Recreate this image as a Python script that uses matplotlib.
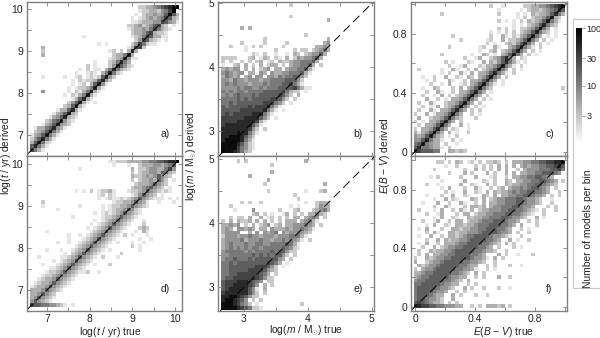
import matplotlib
matplotlib.use('Agg')
import matplotlib.pyplot as plt
from matplotlib.colors import LogNorm
from matplotlib.cm import ScalarMappable
from matplotlib.patches import Rectangle
from matplotlib.ticker import MultipleLocator
import numpy as np

plt.rcParams['font.family'] = ['Liberation Sans', 'DejaVu Sans']
plt.rcParams['mathtext.fontset'] = 'custom'
plt.rcParams['mathtext.rm'] = 'Liberation Sans'
plt.rcParams['mathtext.it'] = 'Liberation Sans:italic'

# shade level per bin (. = empty, 9 = darkest), top row first
panel_a = [
    ".............................22334567899",
    ".............................1223324579",
    "............................1.2334346963",
    "...........................1.12343457632",
    "...........................1123334476431",
    "..........................22342346732.1",
    "..........................123343575321",
    "...........................2334673221",
    "..............1............1235763311",
    "............................2476321.1",
    "..................1.1......2475211",
    "...3......................13772",
    "...2.................12.2.383",
    "...3..................233583",
    ".....................12348411",
    ".................1...235853",
    "...............2.1...2486421",
    ".............1.2.11.3585321",
    "............1..121.358521",
    "...1.....1..12.12126842",
    "...........1.212236842",
    "...........1.12.36841",
    "..........1.12235831",
    "...4......1.2135831",
    ".........1.2135831",
    "...........136831",
    "..........246831.1",
    ".........236831",
    ".......1336831",
    "......1346832",
    ".....13468321",
    "....23568421",
    "...13468432",
    ".133568431",
    ".23468531",
    "13468531",
    "2468531",
    "368521",
    "68531",
    "7531",
]

panel_b = [
    "..................2",
    "",
    "",
    "..................2",
    "............................3",
    "",
    ".....3.3",
    "",
    "......................2",
    "...........2................3",
    ".....2.....2.....2.........34",
    "..2...1.2.2.....2........3343",
    "......1.......2....2.22.23453",
    "........21.2..1..1.32.234463",
    "2222...23.132.21.3.24344563",
    "2.2..2.2.23.12.32234455563",
    "1..23.3.2.3.233.2.3445563.2",
    "34344.3.3.234.33.34455631",
    "454344.33.43.43344555631",
    "35434.34.44.44354556642",
    "4435443444344555566642",
    "4545444344454555667531",
    "444454554454555666675311",
    "545455455556666675322.1",
    "4545655565666667642.3",
    "555565656666677642.2",
    "55656666666777542.1",
    "6566666767778531",
    "666667777778531.1",
    "67677777888531",
    "7777778888642.1",
    "777788888731",
    "78888888641",
    "8888888742.2",
    "8888988531",
    "889998642",
    "899998531",
    "999986421",
    "999975421",
    "99987532",
]

panel_c = [
    "....................2..1.....22334456789",
    "......................1.....1.2332345686",
    ".......2..............2....1.1.323346853",
    "...........................1.2.23346832",
    "......................2.1.1.2.323468531",
    "..........................1.1.23468532",
    "......................2.2.1.22346853.1",
    "....................1.1.2.2.23468532.1",
    "..........2.........2..31.21346853.1.1",
    "............2......12..3.22346853.2.1",
    "...................2.1..23246853.2.1",
    ".........2.......12..31..3468531.2",
    ".................1..23.2346853.2.1",
    ".......2.......1..32.1.346853.2.1",
    ".............2..13..2346853.21",
    "........2.1...21..3.32468531.1",
    ".........2..13...2133468531.2",
    ".2.....1..31..2.3.2346853.2.1",
    ".......1.2..31.3.33468531.2",
    "..1..2..3..21.32.346853.2",
    "...1.2...31..2.3346853.1",
    "....2..1.3..12.3468531.1",
    "..1..32...2.3.3468532..................2",
    "...2..31..2.3346853.1",
    "..2..1.3.2.2346853.2",
    "...3..2.1.3346853.2.1",
    ".2..31..23346853.2",
    "..2.1.3.2346853.2.1",
    ".2..31.3346853.2.2",
    "2..3.13346853..2.1",
    ".3..233468532...2",
    "2.1.3346853.2",
    ".2.3346853..3.1",
    "2.3346853.21..1",
    "31346853.3.1..2",
    "43468532.1.2",
    "44685331..2.1",
    "5685433.2..1",
    "68554331.2",
    "8766655..33232",
]

panel_d = [
    ".....................1122233334455667889",
    "......................1...1..2333443456",
    ".............1.............3.2234433574",
    "...........................2.2334436532",
    "...........................32234346432",
    "...........................2.23343642.1",
    "............................233346432",
    "...........................233456432.1",
    "............1.1.2.12231...122346432121",
    "..................12.21....1246432.1",
    "..................1.1211212346432111.1.1",
    "...2..................1223346431..1...1",
    "...1.........1.....1.12233464321",
    ".......1...........1.123346421",
    ".................1.12123464321",
    "...........1.......1223464321",
    ".................1.123464321..1",
    "................1.123464321...2",
    "...............1.123464321...232",
    "....1...........123464321...1.31",
    "..........1..1.123464321.2.1...1",
    "..........1...123464321......1..1",
    ".......1..1..123464321.1...1..1",
    "............123464321......2.1",
    "....1...1..123464321.1.......1",
    ".........1.23464321.....2",
    "..1.....1123464321.2...1",
    "......1.123464321",
    "...1...123464321.1...2",
    ".....1123464321",
    "....122346432112..1",
    "...1223464321",
    "..1233464321",
    ".1233464321",
    "1233464321",
    "333464321",
    "3346432",
    "3464321",
    "464321",
    "7665544321.1",
]

panel_e = [
    "....2.2...............3",
    ".............2",
    "",
    ".............3",
    ".......3",
    "............3",
    "...........2...............3",
    "",
    "............2.........1...23",
    "...................2",
    "....................2",
    ".....2.2..2...........1..2332",
    "..2...............1.1....2433",
    "...1....4......2...23...23453",
    "........23.2.1..13.2.2.33532",
    "..2.22.3..3.12.2.2.33.3454.2",
    "2.3.3223.3.3.2.2.333.34531",
    "33434.2.3.234.23.33444543.2",
    "343.44343.33.433343445431",
    "34444..3.4.4345.43445432",
    "24443445443444344455531",
    "3444453444544344545431.2",
    "345444544554455556531",
    "345454545545555565421",
    "45555545455556566422",
    "445555556565656642.2",
    "45565556566666643.2",
    "5565666666667653.1",
    "556666666777642.1",
    "556666677776432",
    "5566777777653.2",
    "56677777876422",
    "67778887654.22",
    "6778888764.3.2",
    "6788888641.3",
    "7888888642.2",
    "8899876422",
    "8998764.2.2",
    "99987542.1...........2",
    "99998765221",
]

panel_f = [
    "......22.2.32.12.2.2232.2.33344556677889",
    "........1..2....2.2.2.3.3.3.343445566786",
    ".....2.......2..3.2.2.3.3..2.34445556675",
    ".........2...3.2...3.2..3.3.33445566654",
    "....1.2.....2...3...12..2.33445566543",
    ".......1.....3....21.2..32.33445566543.2",
    "...2..1.....3..21..3.2..32334455665432",
    ".......1.3...2..31..2.23.34454566543.2",
    "........2.1..3..21.3.323345455665543..2",
    "...1...2..3..21...32.3.334455665443.2.2",
    ".....1..3.21...32.3.23445556654432..1",
    "..1...3..2..31..2.3.33445556654432..2",
    ".....2..31...2.3323.344555665443...2.2",
    ".2...1.3..2.31.3.2334445566554321.2..2",
    "...2..13...2.33.2334455566554321..2",
    ".....1.3..21..3233445556654432..3.1",
    "..2..13..2.33.23345556665443..2.2",
    "...1.3..21.3323345556665543.3...2",
    ".1.3...2..3323344556665543..2.1",
    "...2.31..33233444566665443.2..2",
    ".1..3..2.33234556666544321..2",
    "...2..3.323344566665543..3.1..2",
    ".1.3..2.333455666655432.3.2",
    "..2..3.23445566665543.2...2.1",
    ".2..323344566666554332..2",
    ".2.3.33445566665543...3.2..1...2",
    "2..32344556666654431.3.2",
    "3..2344566666554432..2",
    ".3234456666655433..2.2...2..1",
    "2.344566666554431..2.1",
    "334556666655432.3.2",
    "34556666654433..2.2...3..2",
    "4556666655432.3",
    "556666654433..2.2",
    "56666654432..3.2..2...2..1",
    "566665443..2.2",
    "56665433..3.2...2..2",
    "56654432..3",
    "67654332.2.2",
    "8877665544433..2.2.33323.2",
]

t_lim = [6.6, 10.1]
m_lim = [2.65, 5.0]
ebv_lim = [-0.01, 1.0]

t_ticks = [7, 8, 9, 10]
m_ticks = [3, 4, 5]
ebv_ticks = [0, 0.4, 0.8]
ebv_ticklabels = ['0', '0.4', '0.8']
cbar_ticks = [3, 10, 30, 100]
panel_labels = ['a)', 'b)', 'c)', 'd)', 'e)', 'f)']

W, H = 600.0, 338.0
EDGE = '#7f7f7f'


def px_axes(fig, x0, x1, y0, y1):
    # pixel box, y from the top of the image
    return fig.add_axes([x0 / W, 1 - y1 / H, (x1 - x0) / W, (y1 - y0) / H])


def to_grid(rows):
    grid = [[0 if c == '.' else int(c) for c in r.ljust(40, '.')[:40]] for r in rows]
    return np.array(grid[::-1])


def draw_panel(ax, rows, lim, xlim, ylim, major, minor, label):
    edges = np.linspace(lim[0], lim[1], 41)
    ax.pcolormesh(edges, edges, to_grid(rows), cmap='gray_r', vmin=0, vmax=9.5, antialiased=False, linewidth=0)
    ax.plot(xlim, xlim, color='black', lw=0.7, ls=(0, (9, 5)))
    ax.set_xlim(xlim)
    ax.set_ylim(ylim)
    ax.xaxis.set_minor_locator(MultipleLocator(minor))
    ax.yaxis.set_minor_locator(MultipleLocator(minor))
    ax.set_xticks(major)
    ax.set_yticks(major)
    ax.tick_params(which='both', direction='in', top=True, right=True, length=3, width=0.6, color=EDGE, labelsize=7.5, pad=2.5, labelcolor='#222222')
    for s in ax.spines.values():
        s.set_color(EDGE)
        s.set_linewidth(1.0)
    ax.text(0.865, 0.14, label, transform=ax.transAxes, fontsize=7.5, ha='left', va='center', color='#222222')


fig = plt.figure(figsize=(6, 3.38), dpi=100)

ax_a = px_axes(fig, 26.7, 181.7, 1.5, 156)
ax_d = px_axes(fig, 26.7, 181.7, 156, 311)
ax_b = px_axes(fig, 218.3, 374.3, 1.5, 156)
ax_e = px_axes(fig, 218.3, 374.3, 156, 311)
ax_c = px_axes(fig, 410.7, 566.7, 1.5, 156)
ax_f = px_axes(fig, 410.7, 566.7, 156, 311)

draw_panel(ax_a, panel_a, t_lim, [6.526, 10.157], [6.5, 10.19], t_ticks, 0.5, panel_labels[0])
draw_panel(ax_d, panel_d, t_lim, [6.526, 10.157], [6.5, 10.19], t_ticks, 0.5, panel_labels[3])
draw_panel(ax_b, panel_b, m_lim, [2.6, 5.04], [2.61, 5.03], m_ticks, 0.5, panel_labels[1])
draw_panel(ax_e, panel_e, m_lim, [2.6, 5.04], [2.63, 5.05], m_ticks, 0.5, panel_labels[4])
draw_panel(ax_c, panel_c, ebv_lim, [-0.029, 1.01], [-0.03, 1.02], ebv_ticks, 0.2, panel_labels[2])
draw_panel(ax_f, panel_f, ebv_lim, [-0.029, 1.01], [-0.03, 1.03], ebv_ticks, 0.2, panel_labels[5])

for ax in (ax_a, ax_b, ax_c):
    ax.tick_params(labelbottom=False)
for ax in (ax_c, ax_f):
    ax.set_xticklabels(ebv_ticklabels)
    ax.set_yticklabels(ebv_ticklabels)

# shared labels sit on the seam between the two rows
lab = dict(fontsize=7.4, color='#222222', ha='center', va='center')
fig.text(5.8 / W, 1 - 156 / H, r'log($t$ / yr) derived', rotation=90, **lab)
fig.text(192 / W, 1 - 156 / H, r'log($m$ / M$_{\odot}$) derived', rotation=90, **lab)
fig.text(385 / W, 1 - 156 / H, r'$E$($B$ − $V$) derived', rotation=90, **lab)
fig.text(110 / W, 1 - 332 / H, r'log($t$ / yr) true', **lab)
fig.text(306 / W, 1 - 331 / H, r'log($m$ / M$_{\odot}$) true', **lab)
fig.text(504 / W, 1 - 332 / H, r'$E$($B$ − $V$) true', **lab)

# colour key in its own light frame, running off the right edge
fig.add_artist(Rectangle((573 / W, 1 - 288 / H), 40 / W, 269 / H, transform=fig.transFigure, fc='white', ec='#c8c8c8', lw=0.8, zorder=-1))
cax = px_axes(fig, 576, 582, 28, 143)
cb = fig.colorbar(ScalarMappable(norm=LogNorm(1, 100), cmap='gray_r'), cax=cax, ticks=cbar_ticks)
cb.set_ticklabels([str(v) for v in cbar_ticks])
cb.minorticks_off()
cb.outline.set_visible(False)
cb.ax.tick_params(length=2, width=0.5, color=EDGE, labelsize=6.5, pad=1, labelcolor='#222222')
fig.text(588 / W, 1 - 229 / H, 'Number of models per bin', rotation=90, **lab)

fig.savefig('out.png', dpi=100)
